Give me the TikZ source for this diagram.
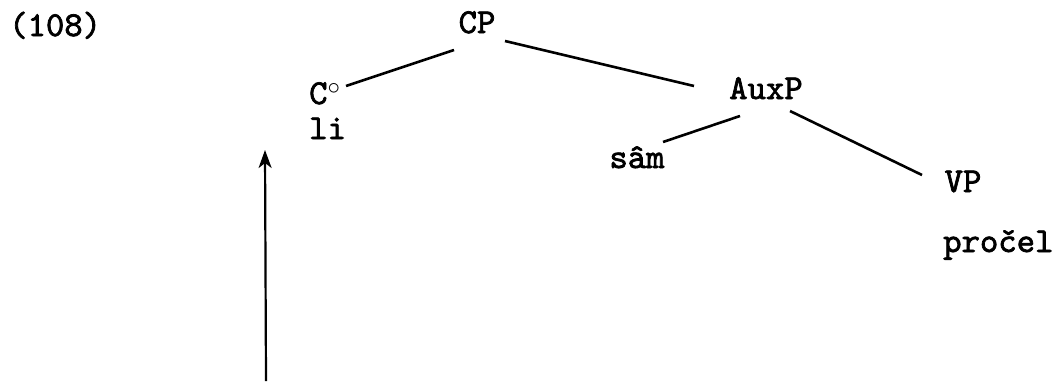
\documentclass[tikz,border=0pt]{standalone}
\usepackage{fontspec}
\newfontfamily\treefont{lmmono10-regular.otf}[FakeBold=2]
\usetikzlibrary{arrows.meta}

\begin{document}
\begin{tikzpicture}[x=1pt, y=-1pt,
	lbl/.style={font=\treefont\fontsize{35}{35}\selectfont, inner sep=0pt, anchor=base},
	branch/.style={line width=2.6pt},
	mover/.style={line width=2.2pt, -{Stealth[length=18pt, width=13pt, inset=5pt]}}]

	\useasboundingbox (0,0) rectangle (1060,381);

%labels
	\node[lbl, anchor=base west] (num) at (9,36) {(108)};
	\node[lbl] (CP) at (477,33) {CP};
	\node[lbl, anchor=base west] (C) at (309,104) {C$^\circ$};
	\node[lbl, anchor=base west] (li) at (309,139) {li};
	\node[lbl] (AuxP) at (766,99) {AuxP};
	\node[lbl] (sam) at (637,168) {sâm};
	\node[lbl] (VP) at (963,192) {VP};
	\node[lbl, anchor=base west] (procel) at (943,252) {pročel};

%branches
	\draw[branch] ([shift={(-23,17)}]CP.base) -- ([shift={(37,-18)}]C.base west);
	\draw[branch] ([shift={(28,8)}]CP.base) -- ([shift={(-72,-13)}]AuxP.base);
	\draw[branch] ([shift={(-26,17)}]AuxP.base) -- ([shift={(26,-26)}]sam.base);
	\draw[branch] ([shift={(24,12)}]AuxP.base) -- ([shift={(-41,-17)}]VP.base);

%movement
	\coordinate (foot) at (266,381);
	\coordinate (head) at (265,150);
	\draw[mover] (foot) -- (head);

\end{tikzpicture}
\end{document}
